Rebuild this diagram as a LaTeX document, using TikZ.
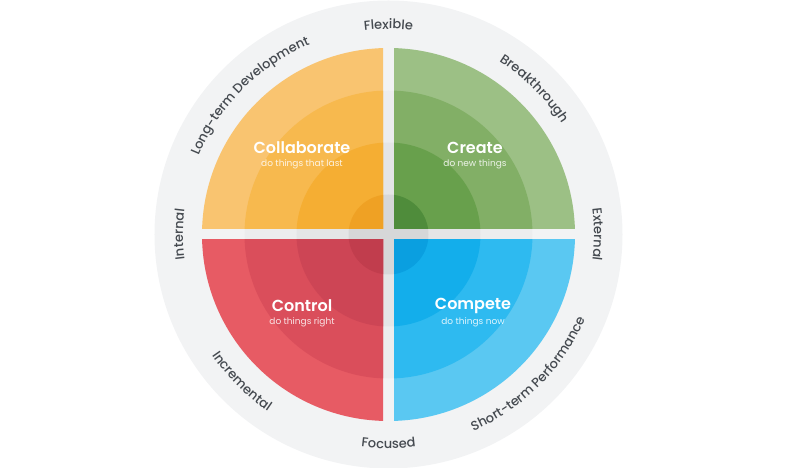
\documentclass[tikz,border=0pt]{standalone}
\usepackage{fontspec}
\setmainfont{Poppins}[BoldFont={Poppins SemiBold}]
\newfontfamily\lblfam{Poppins Medium}
\usetikzlibrary{decorations.text}
\definecolor{band}{HTML}{F2F3F4}
\definecolor{lblgrey}{HTML}{454A50}
\definecolor{orA}{HTML}{F9C470}\definecolor{orB}{HTML}{F7B94E}\definecolor{orC}{HTML}{F5AE33}\definecolor{orD}{HTML}{EFA124}
\definecolor{grA}{HTML}{9CC085}\definecolor{grB}{HTML}{82AF66}\definecolor{grC}{HTML}{68A04C}\definecolor{grD}{HTML}{4F8C3B}
\definecolor{rdA}{HTML}{E75B64}\definecolor{rdB}{HTML}{DA4E5B}\definecolor{rdC}{HTML}{CD4555}\definecolor{rdD}{HTML}{C13D4D}
\definecolor{blA}{HTML}{5AC8F2}\definecolor{blB}{HTML}{2EBAF0}\definecolor{blC}{HTML}{13AEEB}\definecolor{blD}{HTML}{0A9FE0}
\newcommand{\lblfont}{\lblfam\fontsize{13}{15}\selectfont}
% one quarter: sign x, sign y, four shades from outside in
\newcommand{\quarter}[6]{%
	\begin{scope}
	\clip (#1*5.5,#2*5.5) rectangle (#1*200,#2*200);
	\fill[#3] (0,0) circle (186.5pt);
	\fill[#4] (0,0) circle (144pt);
	\fill[#5] (0,0) circle (92pt);
	\fill[#6] (0,0) circle (40pt);
	\end{scope}}
\tikzset{
	title/.style={text=white, font=\fontsize{16}{18}\selectfont\bfseries},
	sub/.style={text=white, text opacity=.85, font=\fontsize{9}{10}\selectfont},
	outlbl/.style={decorate, decoration={text along path, text align=center, text color=lblgrey, text={|\lblfont|#1}}},
}
\begin{document}
\begin{tikzpicture}[x=1pt, y=1pt]
	\useasboundingbox (-388.5,-233.5) rectangle (411.5,234.5);
	%outer ring
	\fill[band] (0,0) circle (234pt);
	\fill[black, opacity=.025] (0,0) circle (144pt);
	\fill[black, opacity=.03] (0,0) circle (92pt);
	\fill[black, opacity=.06] (0,0) circle (40pt);
	%quarters
	\quarter{-1}{1}{orA}{orB}{orC}{orD}
	\quarter{1}{1}{grA}{grB}{grC}{grD}
	\quarter{-1}{-1}{rdA}{rdB}{rdC}{rdD}
	\quarter{1}{-1}{blA}{blB}{blC}{blD}
	%names
	\node[title] (collab) at (-86.5, 86.5) {Collaborate};
	\node[sub] (collabsub) at (-86.5, 70) {do things that last};
	\node[title] (create) at (86.5, 86.5) {Create};
	\node[sub] (createsub) at (86.5, 70) {do new things};
	\node[title] (control) at (-86.5, -71.5) {Control};
	\node[sub] (controlsub) at (-86.5, -88) {do things right};
	\node[title] (compete) at (84.5, -71.5) {Compete};
	\node[sub] (competesub) at (84.5, -88) {do things now};
	%labels round the ring, outward
	\path[outlbl=Flexible] (120:205.5) arc (120:60:205.5);
	\path[outlbl=Long-term Development] (180:205.5) arc (180:90:205.5);
	\path[outlbl=Breakthrough] (90:205.5) arc (90:0:205.5);
	\path[outlbl=Internal] (210:205.5) arc (210:150:205.5);
	\path[outlbl=External] (30:205.5) arc (30:-30:205.5);
	%labels round the ring, inward
	\path[outlbl=Incremental] (180:214) arc (180:270:214);
	\path[outlbl=Focused] (240:214) arc (240:300:214);
	\path[outlbl=Short-term Performance] (270:214) arc (270:360:214);
\end{tikzpicture}
\end{document}
